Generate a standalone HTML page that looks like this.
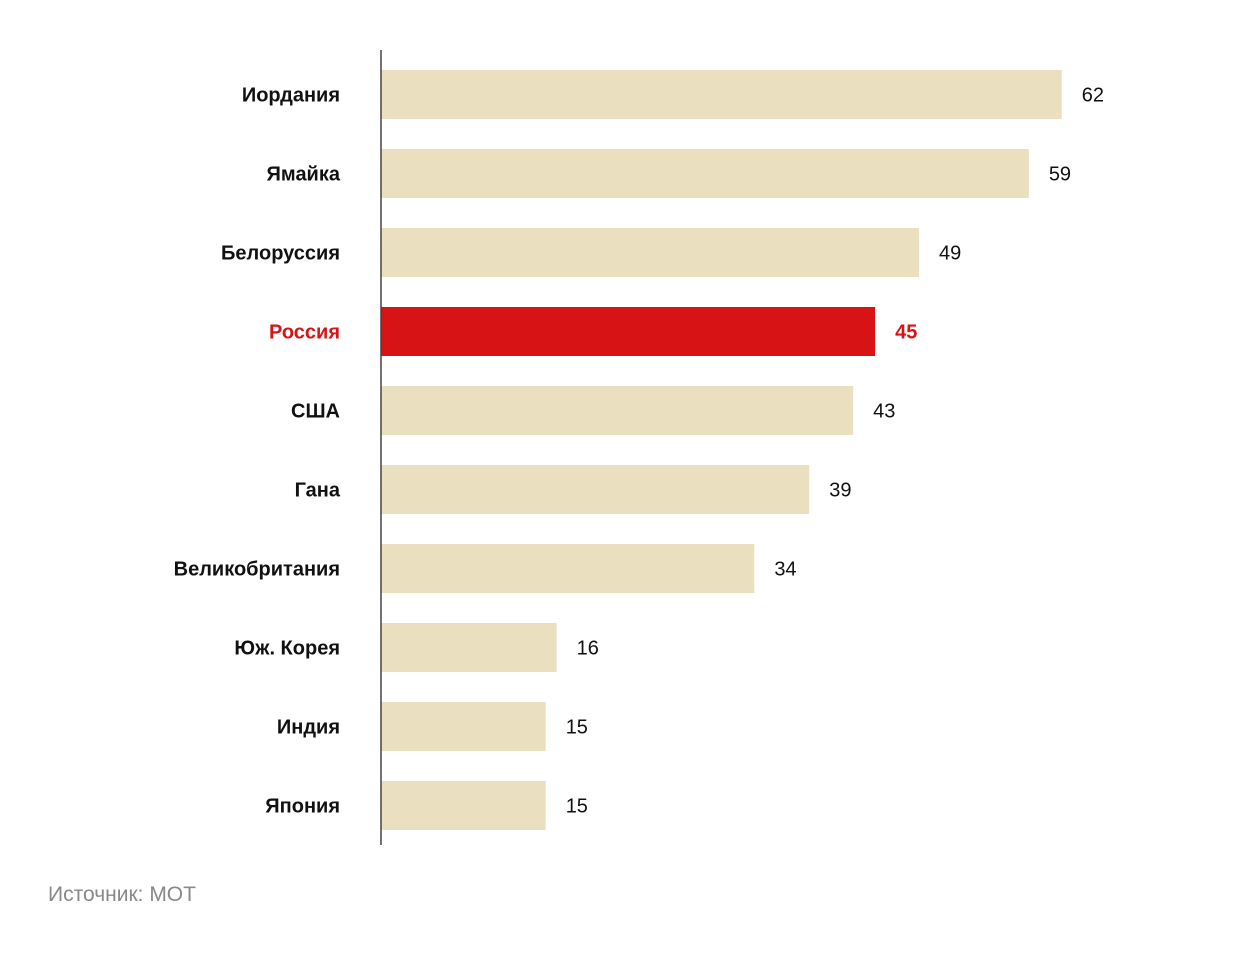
<!DOCTYPE html>
<html><head><meta charset="utf-8">
<style>
body{margin:0;background:#fff;width:1240px;height:956px;overflow:hidden;font-family:"Liberation Sans",sans-serif;}
</style></head>
<body>
<svg width="1240" height="956">
<g id="bars"></g>
<line x1="381" y1="50" x2="381" y2="845" stroke="#444" stroke-width="1.5"/>
<text x="48" y="901" font-size="21" fill="#888">Источник: МОТ</text>
</svg>
<script>
const categories=["Иордания","Ямайка","Белоруссия","Россия","США","Гана","Великобритания","Юж. Корея","Индия","Япония"];
const values=[62,59,49,45,43,39,34,16,15,15];
const highlight="Россия";
const g=document.getElementById('bars');
const NS="http://www.w3.org/2000/svg";
const x0=381,scale=10.98,top0=70,pitch=79,bh=49;
const xPos=v=>x0+v*scale;
const yPos=i=>top0+i*pitch;
categories.forEach((c,i)=>{
  const hi=c===highlight;
  const r=document.createElementNS(NS,'rect');
  
  
  r.setAttribute('x',x0);r.setAttribute('y',yPos(i));
  r.setAttribute('width',xPos(values[i])-x0);r.setAttribute('height',bh);
  r.setAttribute('fill',hi?'#d71315':'#eae0c0');
  g.appendChild(r);
  const l=document.createElementNS(NS,'text');
  
  
  l.setAttribute('x',340);l.setAttribute('y',yPos(i)+bh/2+7);
  l.setAttribute('text-anchor','end');l.setAttribute('font-size','20');l.setAttribute('font-weight','bold');
  l.setAttribute('fill',hi?'#d71315':'#111');
  l.textContent=c;g.appendChild(l);
  const v=document.createElementNS(NS,'text');
  
  
  v.setAttribute('x',xPos(values[i])+20);v.setAttribute('y',yPos(i)+bh/2+7);
  v.setAttribute('font-size','20');
  if(hi){v.setAttribute('font-weight','bold');}
  v.setAttribute('fill',hi?'#d71315':'#111');
  v.textContent=values[i];g.appendChild(v);
});
</script>
</body></html>
